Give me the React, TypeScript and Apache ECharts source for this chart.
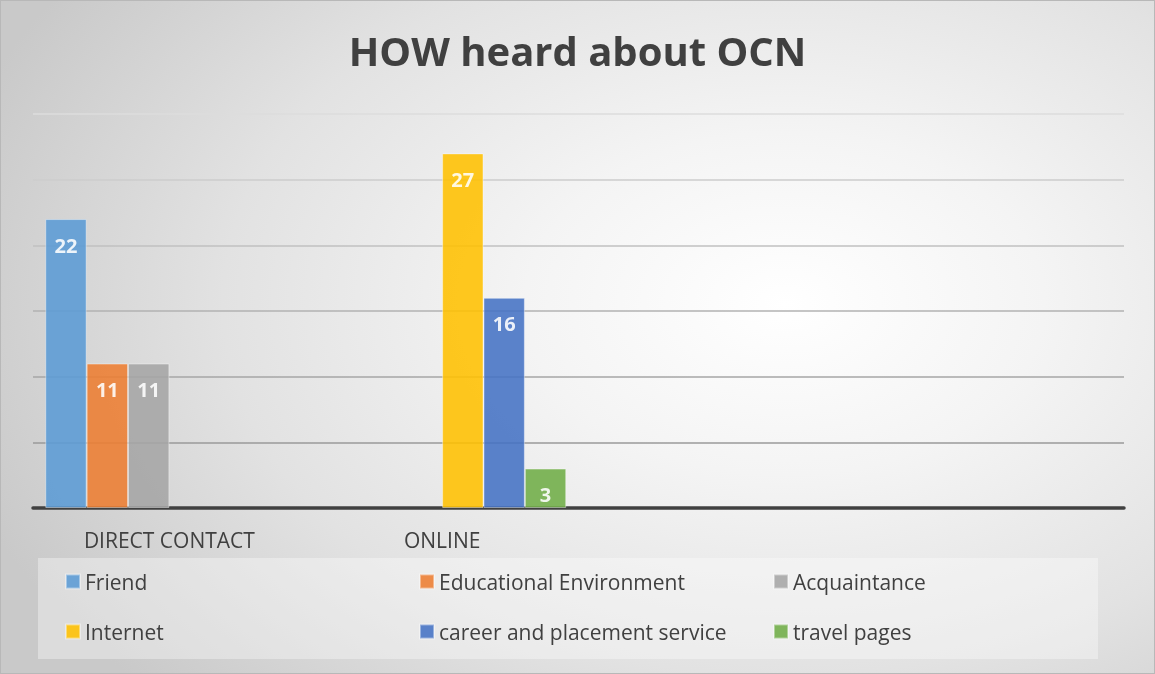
import React, { useEffect, useRef } from "react";
import * as echarts from "echarts";

const categories = ["DIRECT CONTACT", "ONLINE", "", ""];
const seriesNames = [
  "Friend",
  "Educational Environment",
  "Acquaintance",
  "Internet",
  "career and placement service",
  "travel pages",
];
const friend = [22, null, null, null];
const educational = [11, null, null, null];
const acquaintance = [11, null, null, null];
const internet = [null, 27, null, null];
const career = [null, 16, null, null];
const travel = [null, 3, null, null];
const seriesValues = [friend, educational, acquaintance, internet, career, travel];
const colors = ["#5b9bd5", "#ed7d31", "#a5a5a5", "#ffc000", "#4472c4", "#70ad47"];
const yTicks = { min: 0, max: 30, interval: 5 };

const FONT = "'Open Sans', 'Noto Sans', sans-serif";

export default function App() {
  const ref = useRef<HTMLDivElement>(null);
  useEffect(() => {
    if (!ref.current) return;
    const chart = echarts.init(ref.current, undefined, { renderer: "svg" });
    const legendText = { fontFamily: FONT, fontSize: 21, color: "#404040" };
    const mkLegend = (names: string[], left: number) => ({
      data: names,
      orient: "vertical",
      left,
      top: 570,
      padding: 0,
      itemGap: 29,
      itemWidth: 14,
      itemHeight: 14,
      icon: "rect",
      textStyle: legendText,
      selectedMode: false,
    });
    chart.setOption({
      animation: false,
      color: colors,
      title: {
        text: "HOW heard about OCN",
        left: "center",
        top: 24,
        textStyle: { fontFamily: FONT, fontSize: 40, fontWeight: "bold", color: "#404040" },
      },
      graphic: [
        {
          type: "rect",
          shape: { x: 37, y: 557, width: 1060, height: 101 },
          style: { fill: "rgba(255,255,255,0.35)" },
          z: -1,
        },
      ],
      legend: [
        mkLegend([seriesNames[0], seriesNames[3]], 64),
        mkLegend([seriesNames[1], seriesNames[4]], 418),
        mkLegend([seriesNames[2], seriesNames[5]], 772),
      ],
      grid: { left: 32, right: 30, top: 113, bottom: 165, containLabel: false },
      xAxis: {
        type: "category",
        data: categories,
        axisLine: { lineStyle: { color: "#404040", width: 3.5 } },
        axisTick: { show: false },
        axisLabel: { fontFamily: FONT, fontSize: 21, color: "#404040", margin: 21 },
      },
      yAxis: {
        type: "value",
        min: yTicks.min,
        max: yTicks.max,
        interval: yTicks.interval,
        axisLabel: { show: false },
        axisLine: { show: false },
        axisTick: { show: false },
        splitLine: {
          lineStyle: {
            width: 1.5,
            color: ["#8c8c8c", "#9a9a9a", "#a6a6a6", "#b2b2b2", "#c0c0c0", "#cdcdcd", "#dcdcdc"],
          },
        },
      },
      series: seriesNames.map((name, i) => ({
        name,
        type: "bar",
        data: seriesValues[i],
        barGap: "0%",
        barCategoryGap: "9%",
        itemStyle: {
          color: colors[i],
          opacity: 0.88,
          borderColor: "rgba(255,255,255,0.45)",
          borderWidth: 1,
        },
        label: {
          show: true,
          position: "insideTop",
          distance: 16,
          color: "#ffffff",
          fontFamily: FONT,
          fontWeight: "bold",
          fontSize: 20,
        },
      })),
    });
    return () => chart.dispose();
  }, []);
  return (
    <div
      style={{
        position: "fixed",
        left: 0,
        top: 0,
        width: 1155,
        height: 674,
        boxSizing: "border-box",
        border: "1px solid #b8b8b8",
        background:
          "radial-gradient(ellipse 75% 85% at 68% 45%, #ffffff 0%, #f4f4f4 30%, #e2e2e2 65%, #c9c9c9 100%)",
      }}
    >
      <div ref={ref} style={{ width: "100%", height: "100%" }} />
    </div>
  );
}
